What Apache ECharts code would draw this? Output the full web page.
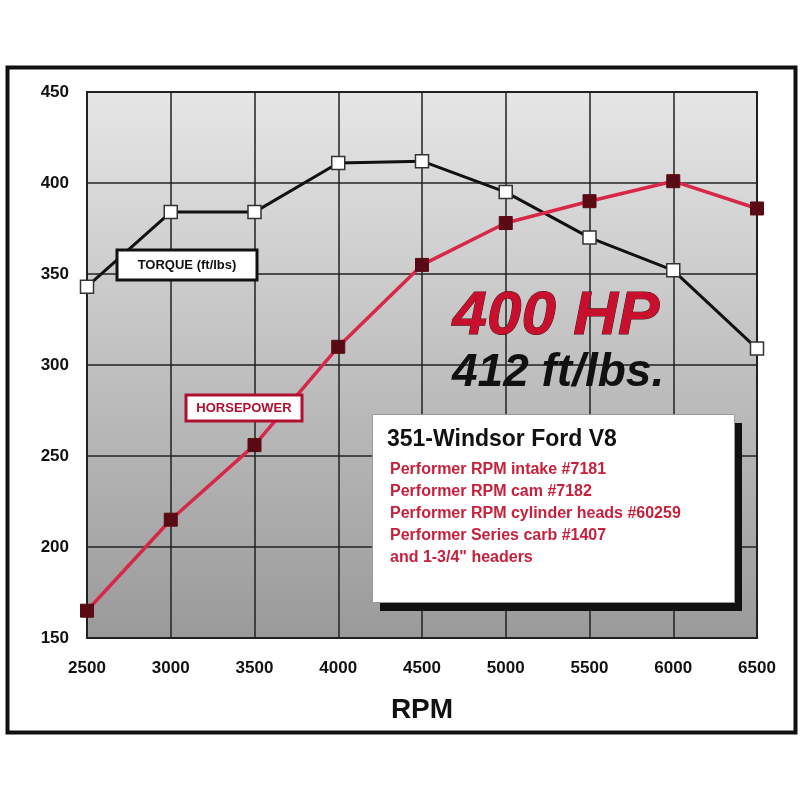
<!DOCTYPE html>
<html><head><meta charset="utf-8">
<script src="https://cdn.jsdelivr.net/npm/echarts@6/dist/echarts.min.js"></script>
<style>html,body{margin:0;padding:0;background:#fff}#c{width:800px;height:800px}</style>
</head><body><div id="c"></div>
<script>
const rpm = ['2500','3000','3500','4000','4500','5000','5500','6000','6500'];
const torque = [343, 384, 384, 411, 412, 395, 370, 352, 309];
const horsepower = [165, 215, 256, 310, 355, 378, 390, 401, 386];
const yTicks = [150, 450, 50];
const specTitle = '351-Windsor Ford V8';
const specLines = ['Performer RPM intake #7181','Performer RPM cam #7182','Performer RPM cylinder heads #60259','Performer Series carb #1407','and 1-3/4" headers'];

const chart = echarts.init(document.getElementById('c'));
const F = 'Liberation Sans Narrow, Liberation Sans, Arial';
chart.setOption({
  backgroundColor: '#fff',
  animation: false,
  grid: {left: 87, right: 43, top: 92, bottom: 162,
    show: true, borderColor: '#222', borderWidth: 2,
    backgroundColor: {type:'linear', x:0, y:0, x2:0, y2:1, colorStops:[{offset:0,color:'#e6e6e6'},{offset:1,color:'#9a9a9a'}]}},
  xAxis: {type:'category', data: rpm, boundaryGap:false,
    axisLine:{show:false}, axisTick:{show:false},
    splitLine:{show:true, lineStyle:{color:'#222', width:1.5}},
    axisLabel:{color:'#111', fontSize:17, fontWeight:'bold', fontFamily:F, margin:22},
    name:'RPM', nameLocation:'middle', nameGap:58,
    nameTextStyle:{color:'#111', fontSize:28, fontWeight:'bold', fontFamily:'Liberation Sans'}},
  yAxis: {type:'value', min:yTicks[0], max:yTicks[1], interval:yTicks[2],
    axisLine:{show:false}, axisTick:{show:false},
    splitLine:{show:true, lineStyle:{color:'#222', width:1.5}},
    axisLabel:{color:'#111', fontSize:17, fontWeight:'bold', fontFamily:F, margin:18}},
  series: [
    {name:'Torque', type:'line', data: torque, symbol:'rect', symbolSize:13,
      lineStyle:{color:'#111', width:3}, itemStyle:{color:'#fff', borderColor:'#333', borderWidth:1.5}, z:3},
    {name:'Horsepower', type:'line', data: horsepower, symbol:'rect', symbolSize:13,
      lineStyle:{color:'#d8284a', width:3.5}, itemStyle:{color:'#5a0a14', borderColor:'#5a0a14'}, z:4}
  ],
  graphic: [
    {type:'rect', left:5, top:65, shape:{width:788, height:665}, style:{fill:'none', stroke:'#111', lineWidth:4}, z:-1},
    {type:'rect', shape:{x:117, y:250, width:140, height:30}, style:{fill:'#fff', stroke:'#111', lineWidth:3}, z:10},
    {type:'text', x:187, y:265, style:{text:'TORQUE (ft/lbs)', fill:'#111', font:'bold 13px '+F, align:'center', verticalAlign:'middle'}, z:11},
    {type:'rect', shape:{x:186, y:395, width:116, height:26}, style:{fill:'#fff', stroke:'#b01030', lineWidth:3}, z:10},
    {type:'text', x:244, y:408, style:{text:'HORSEPOWER', fill:'#b01030', font:'bold 13px '+F, align:'center', verticalAlign:'middle'}, z:11},
    {type:'text', left:452, top:285, style:{text:'400 HP', fill:'#c8102e', stroke:'#4a0a10', lineWidth:1, font:'italic bold 62px '+F}, z:10},
    {type:'text', left:452, top:350, style:{text:'412 ft/lbs.', fill:'#111', font:'italic bold 46px '+F}, z:10},
    {type:'rect', left:380, top:423, shape:{width:362, height:188}, style:{fill:'#111'}, z:10},
    {type:'rect', left:372, top:414, shape:{width:362, height:188}, style:{fill:'#fff', stroke:'#999', lineWidth:1}, z:11},
    {type:'text', left:387, top:428, style:{text:specTitle, fill:'#111', font:'bold 23px '+F}, z:12},
    ...specLines.map((t,i)=>({type:'text', left:390, top:462+i*22, style:{text:t, fill:'#c8203c', font:'bold 16px '+F}, z:12}))
  ]
});
</script></body></html>
